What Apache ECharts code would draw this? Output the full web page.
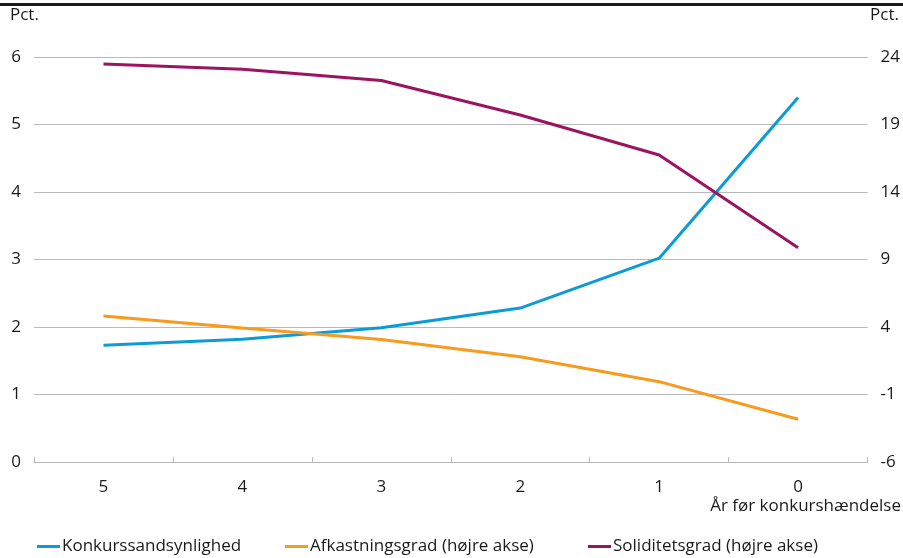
<!DOCTYPE html>
<html>
<head>
<meta charset="utf-8">
<script src="https://cdn.jsdelivr.net/npm/echarts@6/dist/echarts.min.js"></script>
<style>
  html, body { margin: 0; padding: 0; background: #fff; }
  #chart { width: 903px; height: 558px; }
</style>
</head>
<body>
<div id="chart"></div>
<script>
// Years before the bankruptcy event
const years = ['5', '4', '3', '2', '1', '0'];
// Bankruptcy probability, left axis (pct.)
const konkurssandsynlighed = [1.73, 1.82, 1.99, 2.28, 3.02, 5.40];
// Return on assets, right axis (pct.)
const afkastningsgrad = [4.81, 3.93, 3.07, 1.80, -0.05, -2.83];
// Solvency ratio, right axis (pct.)
const soliditetsgrad = [23.48, 23.10, 22.26, 19.70, 16.74, 9.87];

const leftTicks = { min: 0, max: 6, interval: 1 };
const rightTicks = { min: -6, max: 24, interval: 5 };

const FONT = '"Open Sans", "Noto Sans", sans-serif';
const FS = 17;
const TXT = '#1a1a1a';
const GRID = '#b9b9b9';
const C_BLUE = '#0b9bd7';
const C_ORANGE = '#f79a1e';
const C_PURPLE = '#9b1460';

const chart = echarts.init(document.getElementById('chart'), null, { renderer: 'canvas' });

function legendAt(name, left) {
  return {
    data: [name],
    left: left,
    top: 538,
    icon: 'rect',
    itemWidth: 23,
    itemHeight: 3,
    padding: 0,
    selectedMode: false,
    textStyle: { fontFamily: FONT, fontSize: FS, color: TXT, padding: [0, 0, 0, -3] }
  };
}

chart.setOption({
  animation: false,
  backgroundColor: '#fff',
  textStyle: { fontFamily: FONT },
  grid: { left: 34, right: 33, top: 57, bottom: 96, containLabel: false },
  legend: [
    legendAt('Konkurssandsynlighed', 37),
    legendAt('Afkastningsgrad (højre akse)', 285),
    legendAt('Soliditetsgrad (højre akse)', 588)
  ],
  graphic: [
    { type: 'rect', left: 0, top: 3, shape: { width: 903, height: 3 }, style: { fill: '#1a1a1a' } },
    { type: 'text', left: 10, top: 7, style: { text: 'Pct.', font: FS + 'px ' + FONT, fill: TXT } },
    { type: 'text', right: 4, top: 7, style: { text: 'Pct.', font: FS + 'px ' + FONT, fill: TXT } },
    { type: 'text', right: 2, top: 498, style: { text: 'År før konkurshændelse', font: FS + 'px ' + FONT, fill: TXT } }
  ],
  xAxis: {
    type: 'category',
    data: years,
    boundaryGap: true,
    axisLine: { show: true, lineStyle: { color: GRID, width: 1 } },
    axisTick: { show: true, inside: true, length: 5, lineStyle: { color: GRID } },
    axisLabel: { color: TXT, fontSize: FS, fontFamily: FONT, margin: 17 },
    splitLine: { show: false }
  },
  yAxis: [
    {
      type: 'value',
      min: leftTicks.min, max: leftTicks.max, interval: leftTicks.interval,
      axisLine: { show: false },
      axisTick: { show: false },
      axisLabel: { color: TXT, fontSize: FS, fontFamily: FONT, margin: 13 },
      splitLine: { show: true, lineStyle: { color: GRID, width: 1 } }
    },
    {
      type: 'value',
      position: 'right',
      min: rightTicks.min, max: rightTicks.max, interval: rightTicks.interval,
      axisLine: { show: false },
      axisTick: { show: false },
      axisLabel: { color: TXT, fontSize: FS, fontFamily: FONT, margin: 13 },
      splitLine: { show: false }
    }
  ],
  series: [
    {
      name: 'Konkurssandsynlighed', type: 'line', yAxisIndex: 0,
      data: konkurssandsynlighed, showSymbol: false,
      lineStyle: { color: C_BLUE, width: 3 }, itemStyle: { color: C_BLUE }
    },
    {
      name: 'Afkastningsgrad (højre akse)', type: 'line', yAxisIndex: 1,
      data: afkastningsgrad, showSymbol: false,
      lineStyle: { color: C_ORANGE, width: 3 }, itemStyle: { color: C_ORANGE }
    },
    {
      name: 'Soliditetsgrad (højre akse)', type: 'line', yAxisIndex: 1,
      data: soliditetsgrad, showSymbol: false,
      lineStyle: { color: C_PURPLE, width: 3 }, itemStyle: { color: C_PURPLE }
    }
  ]
});
</script>
</body>
</html>
